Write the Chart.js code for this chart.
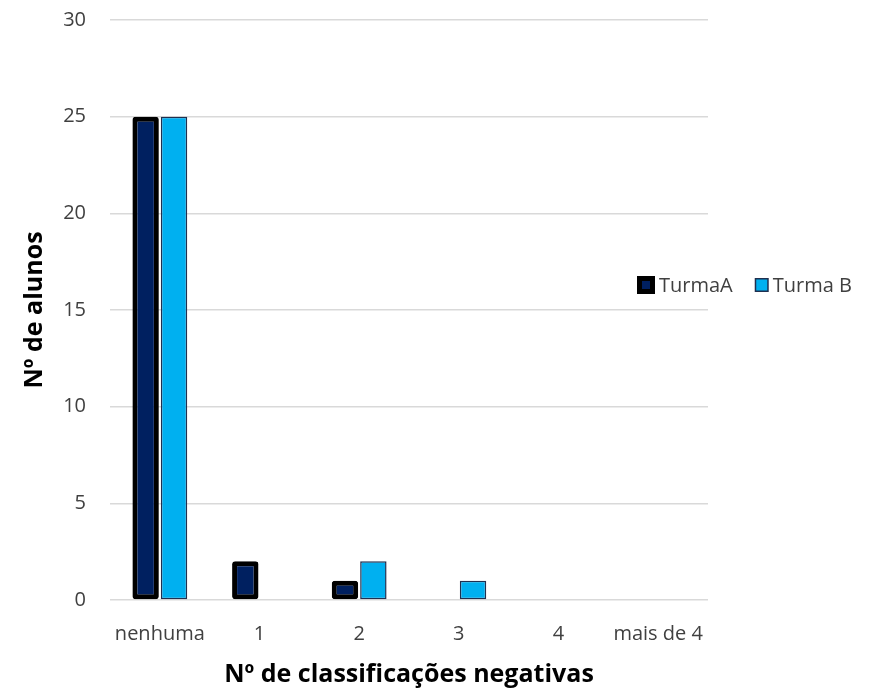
<!DOCTYPE html>
<html>
<head>
<meta charset="utf-8">
<script src="https://cdn.jsdelivr.net/npm/chart.js@4.4.1/dist/chart.umd.min.js"></script>
<style>
    html, body { margin: 0; padding: 0; background: #fff; }
    #wrap { width: 874px; height: 690px; position: relative; }
</style>
</head>
<body>
<div id="wrap"><canvas id="chart"></canvas></div>
<script>
const categories = ['nenhuma', '1', '2', '3', '4', 'mais de 4'];
const turmaA = [25, 2, 1, 0, 0, 0];
const turmaB = [25, 0, 2, 1, 0, 0];
const yTicks = [0, 5, 10, 15, 20, 25, 30];

const FONT = "'Open Sans', 'Liberation Sans', sans-serif";

// Legend drawn in one row on the right side, like the original
const sideLegend = {
    id: 'sideLegend',
    afterDraw(chart) {
        const ctx = chart.ctx;
        const y = 285;
        let x = 637;
        ctx.save();
        ctx.font = '20px ' + FONT;
        ctx.textBaseline = 'middle';
        chart.data.datasets.forEach(ds => {
            const box = ds.legendBox;
            ctx.fillStyle = ds.borderColor;
            ctx.fillRect(x, y - box / 2, box, box);
            const inset = ds.legendInset;
            ctx.fillStyle = ds.backgroundColor;
            ctx.fillRect(x + inset, y - box / 2 + inset, box - inset * 2, box - inset * 2);
            ctx.fillStyle = '#404040';
            ctx.fillText(ds.label, x + box + 4, y + 1);
            x += box + 4 + ctx.measureText(ds.label).width + 22;
        });
        ctx.restore();
    }
};

new Chart(document.getElementById('chart'), {
    type: 'bar',
    data: {
        labels: categories,
        datasets: [
            {
                label: 'TurmaA',
                data: turmaA,
                backgroundColor: '#002060',
                borderColor: '#000000',
                borderWidth: 5,
                borderRadius: 3,
                borderSkipped: false,
                legendBox: 18,
                legendInset: 5
            },
            {
                label: 'Turma B',
                data: turmaB,
                backgroundColor: '#00b0f0',
                borderColor: '#1f2f4f',
                borderWidth: 1.5,
                borderSkipped: false,
                legendBox: 14,
                legendInset: 1.5
            }
        ]
    },
    options: {
        responsive: true,
        maintainAspectRatio: false,
        animation: false,
        layout: { padding: { left: 20, right: 166, top: 20, bottom: 0 } },
        datasets: {
            bar: { categoryPercentage: 0.57, barPercentage: 0.93 }
        },
        plugins: {
            legend: { display: false },
            tooltip: { enabled: false }
        },
        scales: {
            x: {
                afterFit: axis => { axis.height = 90; axis.paddingLeft = 0; axis.paddingRight = 0; },
                grid: { display: false, drawTicks: false },
                border: { display: false },
                ticks: { color: '#404040', font: { family: FONT, size: 20 }, padding: 22 },
                title: {
                    display: true,
                    text: 'Nº de classificações negativas',
                    color: '#000',
                    font: { family: FONT, size: 25, weight: 'bold' },
                    padding: { top: 0, bottom: 0 }
                }
            },
            y: {
                min: 0,
                max: 30,
                afterFit: axis => { axis.width = 90; axis.paddingTop = 0; axis.paddingBottom = 0; },
                afterBuildTicks: axis => { axis.ticks = yTicks.map(v => ({ value: v })); },
                grid: { color: '#d9d9d9', lineWidth: 1.5, drawTicks: false },
                border: { display: false },
                ticks: { color: '#404040', font: { family: FONT, size: 20 }, padding: 24 },
                title: {
                    display: true,
                    text: 'Nº de alunos',
                    color: '#000',
                    font: { family: FONT, size: 25, weight: 'bold' },
                    padding: { top: 0, bottom: 10 }
                }
            }
        }
    },
    plugins: [sideLegend]
});
</script>
</body>
</html>
